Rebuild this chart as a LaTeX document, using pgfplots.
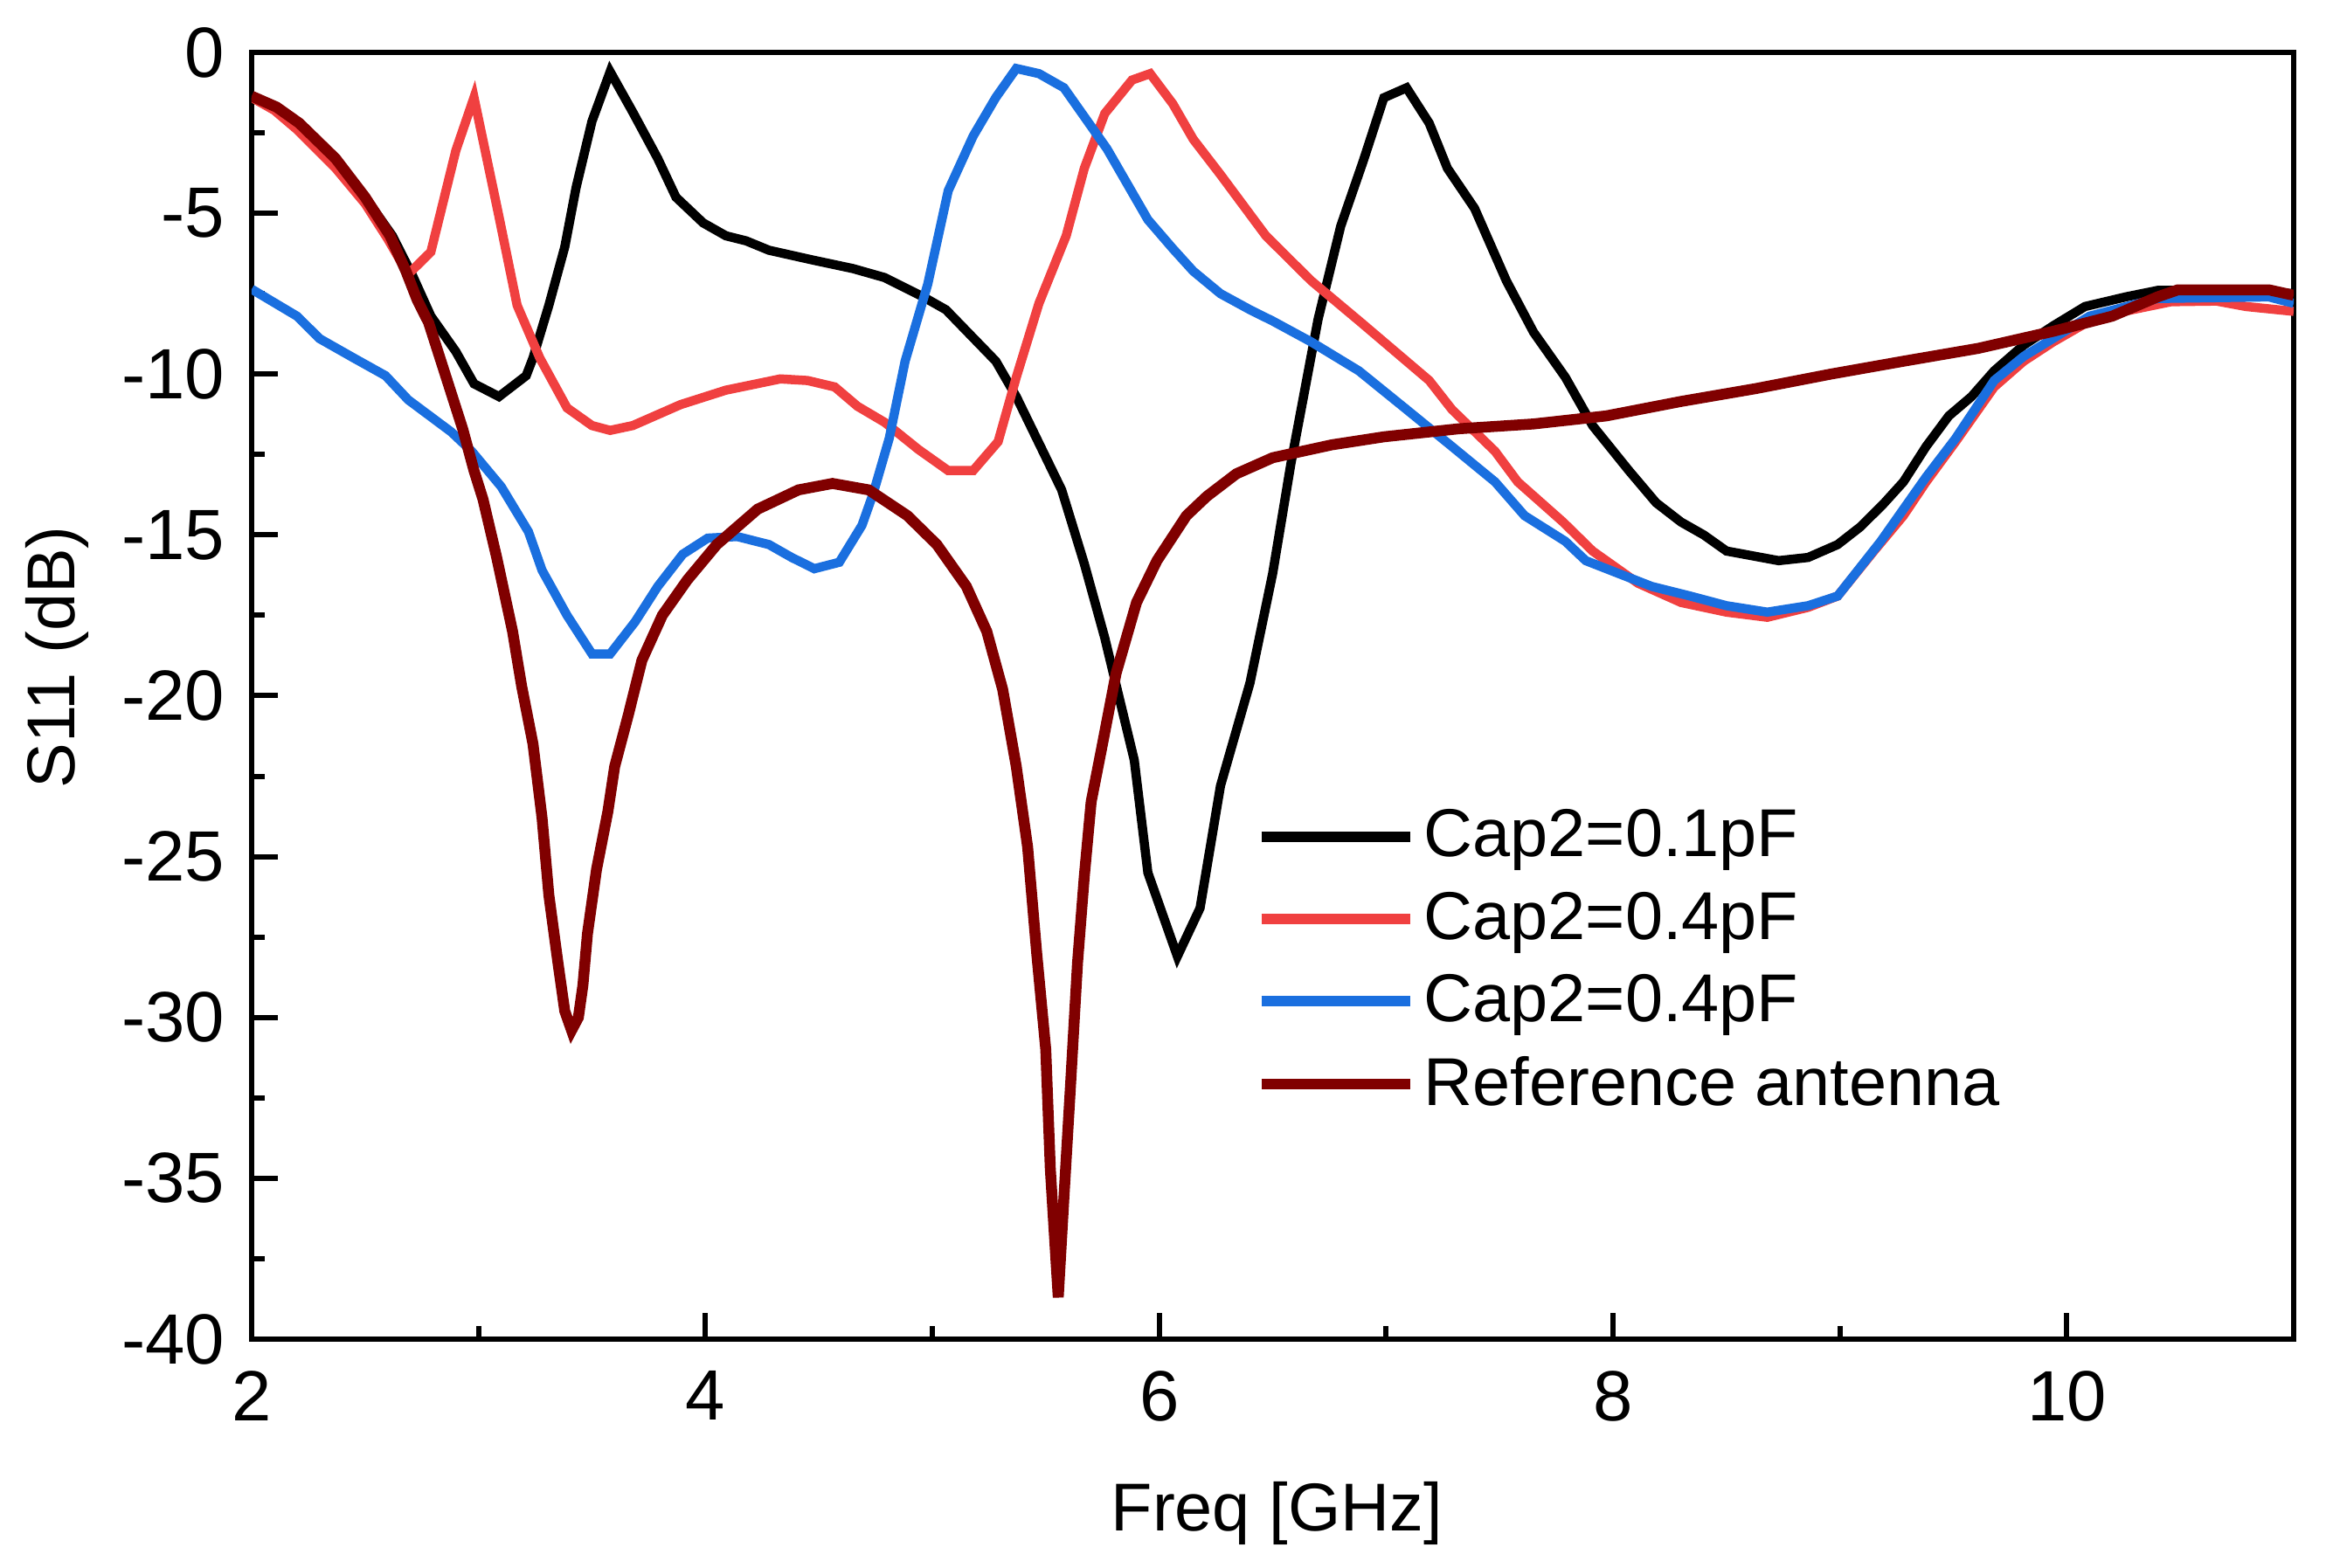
\documentclass[border=0pt]{standalone}
\usepackage{pgfplots}
\pgfplotsset{compat=1.18}
\usepackage{fontspec}
\setmainfont{Liberation Sans}
\definecolor{cred}{RGB}{240,64,64}
\definecolor{cblue}{RGB}{26,111,223}
\definecolor{cdark}{RGB}{128,0,0}
\begin{document}
\begin{tikzpicture}
\begin{axis}[
  scale only axis, width=467.4pt, height=294.6pt,
  xmin=2, xmax=11, ymin=-40, ymax=0,
  xtick={2,4,6,8,10}, ytick={-40,-35,...,0},
  minor x tick num=1, minor y tick num=1,
  tick align=inside, xtick pos=bottom, ytick pos=left,
  major tick length=6pt, minor tick length=3pt,
  axis line style={line width=1.3pt},
  every tick/.style={line width=1.2pt, black},
  /pgf/number format/assume math mode=true,
  tick label style={font=\fontsize{16.3}{19}\selectfont},
  xticklabel style={yshift=-3.7pt},
  yticklabel style={xshift=-2.7pt},
  xlabel={Freq [GHz]}, ylabel={S11 (dB)},
  label style={font=\fontsize{15.5}{18}\selectfont},
  xlabel style={at={(axis description cs:0.502,-0.1487)}, anchor=base},
  ylabel style={at={(axis description cs:-0.0954,0.53)}, anchor=center},
  legend style={at={(axis description cs:0.4915,0.419)}, anchor=north west,
    draw=none, fill=none, font=\fontsize{15.5}{18}\selectfont, row sep=2.5pt, inner sep=0pt},
  legend cell align=left,
  legend image code/.code={\draw[#1, line width=2.4pt] (0pt,0pt) -- (34pt,0pt);},
]
\coordinate (sw) at (rel axis cs:0,0);
\addplot[black, line width=2.1pt] coordinates {
(2.0,-1.4) (2.1,-1.75) (2.2,-2.2) (2.37,-3.3) (2.5,-4.5) (2.62,-5.7) (2.71,-6.95)
(2.79,-8.2) (2.9,-9.3) (2.98,-10.3) (3.09,-10.7) (3.21,-10.05) (3.24,-9.5) (3.31,-7.86)
(3.38,-6.05) (3.43,-4.2) (3.50,-2.14) (3.58,-0.6) (3.68,-1.86) (3.79,-3.3) (3.87,-4.5)
(3.99,-5.3) (4.09,-5.7) (4.18,-5.86) (4.28,-6.15) (4.47,-6.45) (4.65,-6.72) (4.79,-7.0)
(4.96,-7.6) (5.06,-8.0) (5.28,-9.6) (5.37,-10.7) (5.47,-12.15) (5.57,-13.6) (5.67,-15.9)
(5.76,-18.2) (5.89,-22.0) (5.95,-25.5) (6.08,-28.1) (6.18,-26.6) (6.27,-22.8) (6.40,-19.6)
(6.5,-16.2) (6.58,-12.8) (6.70,-8.3) (6.80,-5.4) (6.90,-3.36) (6.99,-1.41) (7.09,-1.1)
(7.19,-2.2) (7.27,-3.6) (7.39,-4.85) (7.53,-7.1) (7.65,-8.7) (7.79,-10.1) (7.91,-11.6)
(8.07,-13.0) (8.19,-14.0) (8.30,-14.6) (8.40,-15.0) (8.50,-15.5) (8.73,-15.8) (8.86,-15.7)
(8.99,-15.3) (9.09,-14.75) (9.19,-14.05) (9.28,-13.35) (9.38,-12.25) (9.48,-11.3) (9.58,-10.7)
(9.68,-9.9) (9.81,-9.1) (9.94,-8.5) (10.08,-7.9) (10.26,-7.6) (10.40,-7.4) (10.6,-7.4)
(10.8,-7.4) (11.0,-7.5)
};
\addlegendentry{Cap2=0.1pF}
\addplot[cred, line width=2.1pt] coordinates {
(2.0,-1.4) (2.1,-1.8) (2.2,-2.4) (2.37,-3.6) (2.5,-4.7) (2.6,-5.8) (2.69,-6.9) (2.79,-6.2)
(2.90,-3.05) (2.98,-1.4) (3.09,-5.1) (3.17,-7.86) (3.27,-9.5) (3.39,-11.05) (3.50,-11.6)
(3.58,-11.75) (3.68,-11.6) (3.89,-10.95) (4.09,-10.5) (4.33,-10.15) (4.45,-10.2) (4.57,-10.4)
(4.67,-11.0) (4.79,-11.5) (4.94,-12.35) (5.07,-13.0) (5.18,-13.0) (5.29,-12.1) (5.37,-10.1)
(5.47,-7.8) (5.59,-5.7) (5.67,-3.6) (5.76,-1.9) (5.88,-0.86) (5.96,-0.66) (6.06,-1.6)
(6.15,-2.7) (6.27,-3.8) (6.47,-5.7) (6.67,-7.1) (6.89,-8.4) (7.09,-9.6) (7.19,-10.2)
(7.29,-11.1) (7.48,-12.4) (7.58,-13.35) (7.78,-14.6) (7.91,-15.5) (8.11,-16.5) (8.30,-17.1)
(8.50,-17.4) (8.68,-17.56) (8.86,-17.25) (8.99,-16.9) (9.15,-15.5) (9.28,-14.4) (9.38,-13.35)
(9.51,-12.1) (9.68,-10.4) (9.81,-9.6) (9.94,-9.0) (10.10,-8.35) (10.26,-8.04) (10.46,-7.75)
(10.66,-7.73) (10.79,-7.9) (11.0,-8.05)
};
\addlegendentry{Cap2=0.4pF}
\addplot[cblue, line width=2.1pt] coordinates {
(2.0,-7.36) (2.2,-8.2) (2.3,-8.9) (2.45,-9.5) (2.59,-10.05) (2.69,-10.8) (2.88,-11.8)
(2.97,-12.4) (3.10,-13.5) (3.22,-14.9) (3.28,-16.1) (3.39,-17.5) (3.50,-18.7) (3.58,-18.7)
(3.69,-17.7) (3.79,-16.6) (3.90,-15.6) (4.01,-15.1) (4.14,-15.05) (4.28,-15.3) (4.38,-15.7)
(4.48,-16.05) (4.59,-15.85) (4.69,-14.7) (4.74,-13.7) (4.81,-12.0) (4.88,-9.6) (4.98,-7.2)
(5.07,-4.3) (5.18,-2.6) (5.28,-1.4) (5.37,-0.5) (5.47,-0.66) (5.58,-1.1) (5.67,-2.0)
(5.77,-3.0) (5.86,-4.1) (5.95,-5.2) (6.06,-6.1) (6.15,-6.8) (6.27,-7.5) (6.40,-8.0)
(6.50,-8.35) (6.67,-9.0) (6.88,-9.9) (7.09,-11.1) (7.29,-12.25) (7.48,-13.35) (7.61,-14.4)
(7.79,-15.2) (7.88,-15.8) (8.17,-16.6) (8.34,-16.9) (8.50,-17.2) (8.68,-17.4) (8.86,-17.2)
(8.99,-16.9) (9.18,-15.2) (9.38,-13.2) (9.51,-12.0) (9.68,-10.2) (9.81,-9.45) (10.10,-8.2)
(10.40,-7.65) (10.89,-7.6) (11.0,-7.8)
};
\addlegendentry{Cap2=0.4pF}
\addplot[cdark, line width=2.5pt] coordinates {
(2.0,-1.36) (2.11,-1.7) (2.21,-2.2) (2.37,-3.3) (2.50,-4.5) (2.61,-5.7) (2.68,-6.8)
(2.73,-7.7) (2.78,-8.4) (2.83,-9.5) (2.88,-10.6) (2.93,-11.7) (2.98,-13.0) (3.02,-13.9)
(3.08,-15.7) (3.15,-18.0) (3.19,-19.7) (3.24,-21.5) (3.28,-23.8) (3.31,-26.2) (3.35,-28.3)
(3.38,-29.8) (3.41,-30.4) (3.44,-30.0) (3.46,-29.0) (3.48,-27.4) (3.52,-25.4) (3.57,-23.6)
(3.60,-22.2) (3.66,-20.6) (3.72,-18.9) (3.81,-17.5) (3.92,-16.4) (4.05,-15.3) (4.23,-14.2)
(4.41,-13.6) (4.56,-13.4) (4.72,-13.6) (4.89,-14.4) (5.02,-15.3) (5.15,-16.6) (5.24,-18.0)
(5.31,-19.8) (5.37,-22.2) (5.42,-24.7) (5.46,-28.0) (5.50,-31.0) (5.52,-34.7) (5.555,-38.7)
(5.58,-35.6) (5.61,-32.0) (5.64,-28.3) (5.67,-25.6) (5.70,-23.3) (5.75,-21.5) (5.81,-19.3)
(5.90,-17.1) (5.99,-15.8) (6.12,-14.4) (6.21,-13.8) (6.34,-13.1) (6.50,-12.6) (6.76,-12.2)
(6.99,-11.95) (7.32,-11.7) (7.65,-11.55) (7.97,-11.3) (8.30,-10.85) (8.63,-10.45) (8.96,-10.0)
(9.28,-9.6) (9.61,-9.2) (9.94,-8.67) (10.20,-8.2) (10.40,-7.6) (10.49,-7.38) (10.89,-7.38)
(11.0,-7.55)
};
\addlegendentry{Reference antenna}
\end{axis}
\path (sw) ++(-57.6pt,-52.2pt) rectangle ++(532.4pt,358.8pt);
\end{tikzpicture}
\end{document}
